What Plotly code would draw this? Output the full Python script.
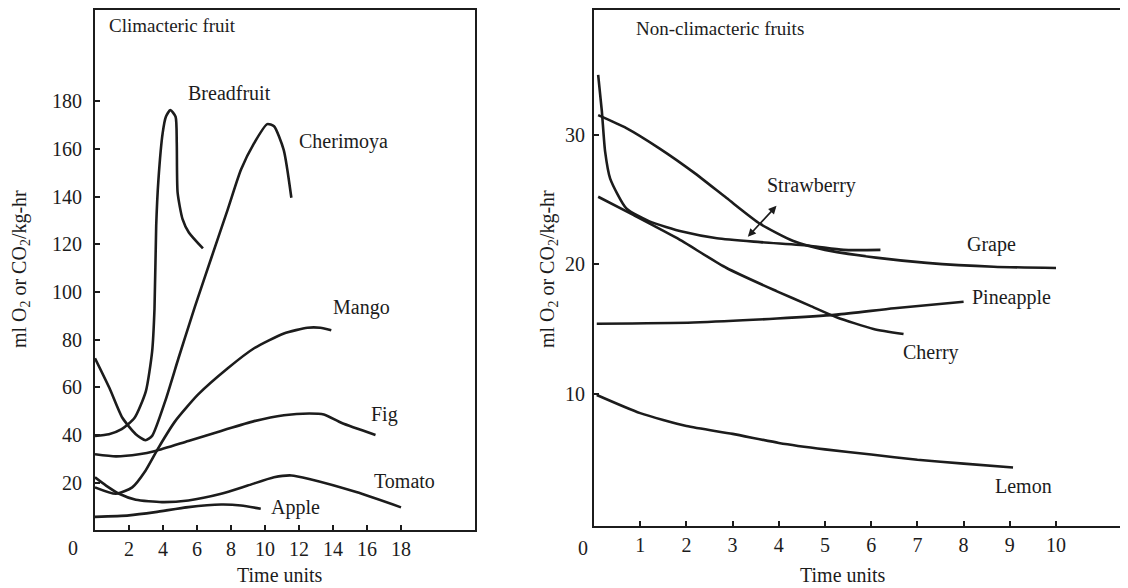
import plotly.graph_objects as go

# ---------------- Climacteric fruit (left panel) ----------------
breadfruit_x = [0, 0.82, 1.57, 2.33, 2.99, 3.36, 3.5, 3.6, 3.73, 3.98, 4.17, 4.43, 4.74, 4.81, 4.86, 5.15, 5.52, 6.35]
breadfruit_y = [39.6, 40.3, 42.4, 47.2, 58.3, 75, 93, 127.8, 147, 166.7, 173.6, 176.4, 173.6, 162.5, 141.7, 130.6, 125, 118.3]

cherimoya_x = [0, 0.85, 1.61, 2.4, 2.97, 3.36, 4.13, 4.91, 5.68, 6.07, 6.85, 7.81, 8.59, 9.36, 10.13, 10.53, 11.1, 11.55]
cherimoya_y = [72.2, 59.7, 47.2, 40.3, 37.8, 39.6, 54.2, 72.2, 89.5, 98, 114.5, 134.7, 151.4, 162.5, 170.5, 169.6, 159.7, 139.6]

mango_x = [0, 1.23, 2.19, 2.97, 3.74, 4.72, 6.07, 7.81, 9.36, 11.11, 12.5, 13.25, 13.9]
mango_y = [18, 15.3, 18, 25, 34.7, 45.8, 57, 68, 76.4, 82.6, 85, 85, 84]

fig_x = [0, 1.23, 2.59, 3.55, 5.49, 7.42, 9.36, 11.11, 12.6, 13.46, 14.52, 16.5]
fig_y = [31.9, 31, 31.9, 33.3, 37.5, 41.7, 45.8, 48.3, 49, 48.6, 45, 40]

tomato_x = [0, 0.65, 1.42, 2.4, 3.94, 5.49, 7.42, 8.98, 10.53, 11.55, 12.6, 15.37, 18.0]
tomato_y = [22.2, 18.75, 15.3, 12.8, 11.8, 12.5, 15.3, 18.75, 22.2, 23, 21.5, 16, 9.6]

apple_x = [0, 2.0, 3.55, 5.49, 7.42, 8.59, 9.75]
apple_y = [5.6, 6.25, 7.6, 9.7, 10.8, 10.4, 9.0]

left_xticks = [2, 4, 6, 8, 10, 12, 14, 16, 18]
left_yticks = [20, 40, 60, 80, 100, 120, 140, 160, 180]

left_names = ["Breadfruit", "Cherimoya", "Mango", "Fig", "Tomato", "Apple"]
left_label_x = [7.9, 14.6, 15.7, 17.0, 18.2, 11.8]
left_label_y = [183.7, 163, 93.7, 48.7, 20.8, 9.6]

# ---------------- Non-climacteric fruits (right panel) ----------------
strawberry_x = [0.09, 0.17, 0.24, 0.35, 0.7, 1.2, 1.93, 2.66, 3.6, 4.7, 5.4, 6.2]
strawberry_y = [34.6, 31.8, 28.7, 26.6, 24.3, 23.3, 22.5, 22.0, 21.7, 21.4, 21.1, 21.1]

grape_x = [0.09, 0.7, 1.43, 2.15, 2.87, 3.6, 4.3, 5.0, 6.1, 7.2, 8.65, 10.0]
grape_y = [31.5, 30.5, 28.9, 27.1, 25.1, 23.1, 21.8, 21.1, 20.5, 20.1, 19.8, 19.7]

cherry_x = [0.09, 0.85, 1.8, 2.87, 3.96, 4.67, 5.25, 6.05, 6.7]
cherry_y = [25.2, 23.8, 22.0, 19.7, 17.9, 16.8, 15.9, 15.0, 14.6]

pineapple_x = [0.06, 2.15, 3.96, 5.25, 6.5, 8.0]
pineapple_y = [15.4, 15.5, 15.8, 16.1, 16.6, 17.1]

lemon_x = [0.06, 1, 2, 3, 4, 5, 6, 7, 8, 9.07]
lemon_y = [9.9, 8.5, 7.5, 6.9, 6.2, 5.7, 5.3, 4.9, 4.6, 4.3]

right_xticks = [1, 2, 3, 4, 5, 6, 7, 8, 9, 10]
right_yticks = [10, 20, 30]

right_names = ["Strawberry", "Grape", "Pineapple", "Cherry", "Lemon"]
right_label_x = [4.7, 8.6, 9.03, 7.3, 9.3]
right_label_y = [26.1, 21.5, 17.4, 13.2, 2.9]

# double-headed pointer near "Strawberry" (tail, head)
pointer_x = [3.3, 3.95]
pointer_y = [22.0, 24.5]

FONT = "Liberation Serif"
INK = "#1c1c1c"
W, H = 1128, 588
OFF = 8  # page body margin shifts the figure; positions below are reference pixels


def px(v):
    return (v - OFF) / W


def py(v):
    return 1 - (v - OFF) / H


fig = go.Figure()

line_style = dict(color=INK, width=2.6, shape="spline", smoothing=0.6)

for xs, ys in [(breadfruit_x, breadfruit_y), (cherimoya_x, cherimoya_y),
               (mango_x, mango_y), (fig_x, fig_y), (tomato_x, tomato_y),
               (apple_x, apple_y)]:
    fig.add_trace(go.Scatter(x=xs, y=ys, mode="lines", line=line_style,
                             xaxis="x", yaxis="y", showlegend=False, hoverinfo="skip"))

for xs, ys in [(strawberry_x, strawberry_y), (grape_x, grape_y),
               (cherry_x, cherry_y), (pineapple_x, pineapple_y),
               (lemon_x, lemon_y)]:
    fig.add_trace(go.Scatter(x=xs, y=ys, mode="lines", line=line_style,
                             xaxis="x2", yaxis="y2", showlegend=False, hoverinfo="skip"))

label_font = dict(family=FONT, size=20, color=INK)
annotations = []
for name, lx, ly in zip(left_names, left_label_x, left_label_y):
    annotations.append(dict(x=lx, y=ly, xref="x", yref="y", text=name,
                            showarrow=False, font=label_font))
for name, lx, ly in zip(right_names, right_label_x, right_label_y):
    annotations.append(dict(x=lx, y=ly, xref="x2", yref="y2", text=name,
                            showarrow=False, font=label_font))

# pointer arrow
annotations.append(dict(x=pointer_x[1], y=pointer_y[1], ax=pointer_x[0], ay=pointer_y[0],
                        xref="x2", yref="y2", axref="x2", ayref="y2", text="",
                        showarrow=True, arrowhead=2, startarrowhead=2, arrowside="end+start",
                        arrowsize=1, arrowwidth=1.6, arrowcolor=INK))

# panel titles
annotations.append(dict(x=px(107), y=py(24), xref="paper", yref="paper", xanchor="left",
                        yanchor="middle", text="Climacteric fruit", showarrow=False,
                        font=dict(family=FONT, size=19, color=INK)))
annotations.append(dict(x=px(634), y=py(27), xref="paper", yref="paper", xanchor="left",
                        yanchor="middle", text="Non-climacteric fruits", showarrow=False,
                        font=dict(family=FONT, size=19, color=INK)))

# y-axis titles
ytitle = "ml O<sub>2</sub> or CO<sub>2</sub>/kg-hr"
for xc in (20, 548):
    annotations.append(dict(x=px(xc), y=py(268), xref="paper", yref="paper", text=ytitle,
                            xanchor="center", yanchor="middle",
                            textangle=-90, showarrow=False, font=label_font))

# x-axis titles
for xc in (280, 843):
    annotations.append(dict(x=px(xc), y=py(575), xref="paper", yref="paper",
                            xanchor="center", yanchor="middle",
                            text="Time units", showarrow=False, font=label_font))

# "0" origin labels (offset left of the axes)
for xc in (73, 583):
    annotations.append(dict(x=px(xc), y=py(548), xref="paper", yref="paper",
                            xanchor="center", yanchor="middle",
                            text="0", showarrow=False, font=label_font))

axis_common = dict(showgrid=False, zeroline=False, showline=True, linecolor=INK,
                   linewidth=2, mirror=True, ticks="inside", ticklen=5, tickwidth=2,
                   tickcolor=INK, tickfont=dict(family=FONT, size=20, color=INK))

# reference pixel geometry of the two plotting boxes
L_left, L_right, L_top, L_bottom = 95, 475, 8, 530
R_left, R_right, R_top, R_bottom = 594, 1127, 8, 526

fig.update_layout(
    width=W, height=H,
    margin=dict(l=0, r=0, t=0, b=0),
    paper_bgcolor="white", plot_bgcolor="white",
    xaxis=dict(domain=[px(L_left), px(L_right)], range=[0, (L_right - L_left) / 17.0],
               tickvals=left_xticks, anchor="y", **axis_common),
    yaxis=dict(domain=[py(L_bottom), py(L_top)], range=[0, (L_bottom - L_top) / 2.39],
               tickvals=left_yticks, anchor="x", ticklabelstandoff=7, **axis_common),
    xaxis2=dict(domain=[px(R_left), px(R_right)], range=[0, (R_right - R_left) / 46.2],
                tickvals=right_xticks, anchor="y2", **axis_common),
    yaxis2=dict(domain=[py(R_bottom), py(R_top)],
                range=[-(R_bottom - 523) / 13.0, (523 - R_top) / 13.0],
                tickvals=right_yticks, anchor="x2", ticklabelstandoff=3, **axis_common),
    annotations=annotations,
)

fig.write_html("out.html")
